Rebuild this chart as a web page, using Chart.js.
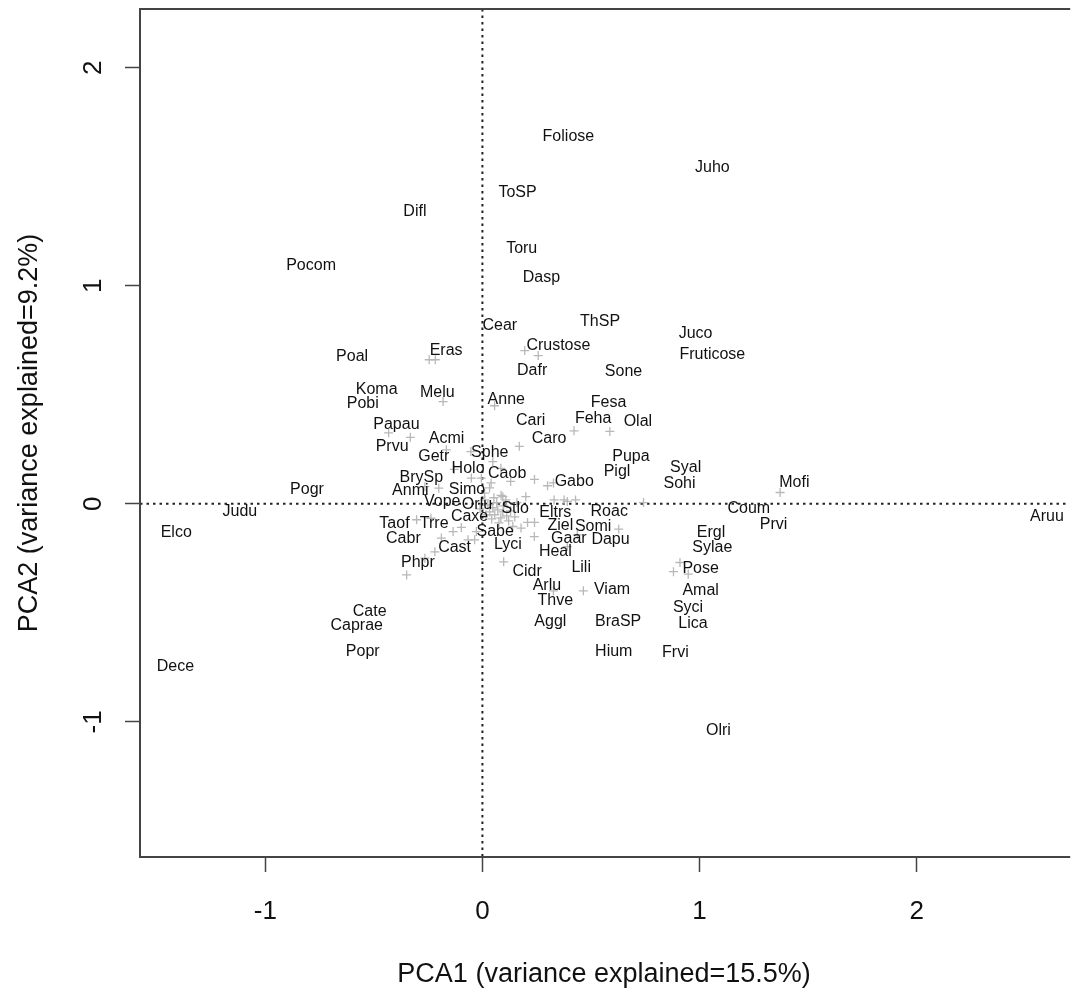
<!DOCTYPE html>
<html>
<head>
<meta charset="utf-8">
<script src="https://cdn.jsdelivr.net/npm/chart.js@4.4.1/dist/chart.umd.min.js"></script>
<style>
  html, body { margin: 0; padding: 0; background: #fff; overflow: hidden; }
  #wrap { width: 1074px; height: 989px; }
</style>
</head>
<body>
<div id="wrap"><canvas id="pca-plot" width="1074" height="989"></canvas></div>
<script>
// species scores (text labels)
const speciesNames = ["Foliose", "Juho", "ToSP", "Difl", "Pocom", "Toru", "Dasp", "Cear", "ThSP", "Juco",
    "Crustose", "Fruticose", "Poal", "Eras", "Dafr", "Sone", "Koma", "Melu", "Pobi", "Anne",
    "Fesa", "Papau", "Cari", "Feha", "Olal", "Acmi", "Caro", "Prvu", "Sphe", "Getr",
    "Pupa", "Syal", "Holo", "Caob", "Pigl", "Sohi", "Mofi", "BrySp", "Gabo", "Pogr",
    "Anmi", "Simo", "Vope", "Orlu", "Stlo", "Coum", "Eltrs", "Roac", "Judu", "Aruu",
    "Caxe", "Prvi", "Ziel", "Somi", "Elco", "Taof", "Trre", "Ergl", "Sabe", "Gaar",
    "Dapu", "Cabr", "Lyci", "Heal", "Sylae", "Cast", "Phpr", "Lili", "Pose", "Cidr",
    "Arlu", "Viam", "Amal", "Thve", "Cate", "Syci", "Caprae", "Aggl", "BraSP", "Lica",
    "Popr", "Hium", "Frvi", "Dece", "Olri"];
const speciesX = [0.396, 1.059, 0.162, -0.311, -0.789, 0.181, 0.272, 0.080, 0.542, 0.982,
    0.350, 1.059, -0.600, -0.167, 0.229, 0.650, -0.487, -0.208, -0.551, 0.110,
    0.581, -0.396, 0.222, 0.510, 0.716, -0.165, 0.307, -0.416, 0.034, -0.224,
    0.684, 0.936, -0.066, 0.114, 0.620, 0.908, 1.437, -0.281, 0.423, -0.808,
    -0.332, -0.071, -0.185, -0.025, 0.151, 1.227, 0.336, 0.584, -1.117, 2.600,
    -0.059, 1.341, 0.359, 0.510, -1.410, -0.405, -0.222, 1.053, 0.059, 0.398,
    0.590, -0.364, 0.117, 0.336, 1.059, -0.128, -0.297, 0.455, 1.005, 0.206,
    0.297, 0.597, 1.005, 0.336, -0.519, 0.947, -0.579, 0.313, 0.625, 0.970,
    -0.551, 0.605, 0.889, -1.414, 1.087];
const speciesY = [1.683, 1.541, 1.427, 1.342, 1.092, 1.172, 1.037, 0.817, 0.835, 0.782,
    0.725, 0.686, 0.674, 0.704, 0.610, 0.606, 0.525, 0.511, 0.461, 0.477,
    0.463, 0.362, 0.381, 0.390, 0.376, 0.298, 0.298, 0.264, 0.236, 0.216,
    0.216, 0.165, 0.161, 0.138, 0.149, 0.092, 0.096, 0.122, 0.101, 0.064,
    0.060, 0.067, 0.009, -0.002, -0.021, -0.023, -0.041, -0.037, -0.034, -0.060,
    -0.060, -0.096, -0.101, -0.106, -0.133, -0.089, -0.092, -0.133, -0.128, -0.161,
    -0.165, -0.158, -0.188, -0.219, -0.202, -0.202, -0.271, -0.294, -0.298, -0.313,
    -0.375, -0.394, -0.400, -0.443, -0.495, -0.474, -0.557, -0.539, -0.541, -0.549,
    -0.678, -0.678, -0.682, -0.746, -1.041];

// site scores (grey crosses)
const siteX = [-0.245, -0.217, -0.181, 0.056, -0.432, -0.332, 0.195, 0.257, 0.422, 0.587,
    0.170, -0.166, -0.053, 0.048, 0.085, -0.130, -0.051, -0.005, 0.240, 0.130,
    0.040, 0.300, 0.327, -0.201, -0.265, 0.010, 0.086, 0.033, 0.094, 0.200,
    0.391, 0.429, 0.742, 0.159, 0.208, 0.240, 0.140, -0.135, -0.097, -0.066,
    -0.189, 0.239, -0.219, -0.265, 0.098, -0.036, -0.028, -0.237, -0.349, 0.628,
    0.437, 0.391, 0.327, 0.465, 0.880, 0.910, 0.948, 1.371, 0.178, 0.376,
    0.330, -0.303, 0.025, 0.048, 0.071, 0.094, 0.057, 0.085, 0.112, 0.034,
    0.011, 0.066, 0.098, 0.121, 0.043, 0.076, 0.016, 0.130, 0.053, -0.011,
    0.108, 0.149];
const siteY = [0.661, 0.661, 0.469, 0.450, 0.326, 0.305, 0.703, 0.680, 0.335, 0.332,
    0.264, 0.248, 0.240, 0.194, 0.163, 0.158, 0.118, 0.118, 0.112, 0.103,
    0.096, 0.083, 0.096, 0.072, 0.079, 0.049, 0.039, 0.073, 0.033, 0.033,
    0.011, 0.018, 0.006, 0.006, -0.085, -0.085, -0.104, -0.127, -0.108, -0.165,
    -0.157, -0.150, -0.220, -0.249, -0.266, -0.165, -0.127, -0.066, -0.326, -0.116,
    -0.142, -0.196, -0.399, -0.399, -0.311, -0.269, -0.322, 0.052, -0.111, 0.018,
    0.018, -0.073, -0.005, -0.018, -0.028, -0.037, -0.050, -0.064, -0.055, -0.037,
    0.018, 0.005, -0.009, -0.078, -0.069, -0.087, -0.050, -0.032, 0.028, -0.023,
    0.018, -0.060];

const tickValues = [-1, 0, 1, 2];
const xTitle = "PCA1 (variance explained=15.5%)";
const yTitle = "PCA2 (variance explained=9.2%)";

const FONT = "'Liberation Sans', Arial, Helvetica, sans-serif";

const sitePoints = siteX.map((x, i) => ({ x: x, y: siteY[i] }));

// frame, zero lines, y tick labels and species names
const pcaDecor = {
    id: "pcaDecor",
    beforeDatasetsDraw(chart) {
        const { ctx, chartArea, scales } = chart;
        const x0 = scales.x.getPixelForValue(0);
        const y0 = scales.y.getPixelForValue(0);
        ctx.save();
        ctx.strokeStyle = "#222";
        ctx.lineWidth = 2;
        ctx.setLineDash([2.5, 4]);
        ctx.beginPath();
        ctx.moveTo(x0, chartArea.top);
        ctx.lineTo(x0, chartArea.bottom);
        ctx.moveTo(chartArea.left, y0);
        ctx.lineTo(chartArea.right, y0);
        ctx.stroke();
        ctx.restore();
    },
    afterDatasetsDraw(chart) {
        const { ctx, chartArea, scales } = chart;
        ctx.save();
        ctx.fillStyle = "#111";
        ctx.font = "16px " + FONT;
        ctx.textAlign = "center";
        ctx.textBaseline = "middle";
        speciesNames.forEach((name, i) => {
            ctx.fillText(name, scales.x.getPixelForValue(speciesX[i]), scales.y.getPixelForValue(speciesY[i]));
        });
        // frame (right side is cut off in the original picture)
        ctx.strokeStyle = "#444";
        ctx.lineWidth = 2;
        ctx.beginPath();
        ctx.moveTo(chartArea.right + 2, chartArea.top);
        ctx.lineTo(chartArea.left, chartArea.top);
        ctx.lineTo(chartArea.left, chartArea.bottom);
        ctx.lineTo(chartArea.right + 2, chartArea.bottom);
        ctx.stroke();
        // rotated y tick labels like R
        ctx.fillStyle = "#111";
        ctx.font = "26px " + FONT;
        tickValues.forEach((v) => {
            ctx.save();
            ctx.translate(94, scales.y.getPixelForValue(v));
            ctx.rotate(-Math.PI / 2);
            ctx.fillText(String(v), 0, 0);
            ctx.restore();
        });
        ctx.restore();
    },
};

new Chart(document.getElementById("pca-plot"), {
    type: "scatter",
    data: {
        datasets: [
            {
                label: "sites",
                data: sitePoints,
                pointStyle: "cross",
                pointRadius: 4.5,
                pointBorderWidth: 1.3,
                borderColor: "#b8b8b8",
                backgroundColor: "#b8b8b8",
            },
        ],
    },
    options: {
        responsive: false,
        animation: false,
        layout: { padding: { top: 9, right: 0, left: 0, bottom: 0 } },
        scales: {
            x: {
                type: "linear",
                min: -1.577,
                max: 2.698,
                afterFit: (scale) => { scale.height = 132; },
                afterBuildTicks: (scale) => { scale.ticks = tickValues.map((v) => ({ value: v })); },
                border: { display: false },
                grid: {
                    drawOnChartArea: false,
                    drawTicks: true,
                    tickLength: 15,
                    tickColor: "#444",
                    tickWidth: 1.5,
                },
                ticks: {
                    color: "#111",
                    font: { family: FONT, size: 26 },
                    padding: 24,
                    maxRotation: 0,
                },
                title: {
                    display: true,
                    text: xTitle,
                    color: "#111",
                    font: { family: FONT, size: 27, lineHeight: 1.1 },
                    padding: { top: 0, bottom: 0 },
                },
            },
            y: {
                type: "linear",
                min: -1.62,
                max: 2.27,
                afterFit: (scale) => { scale.width = 140; },
                afterBuildTicks: (scale) => { scale.ticks = tickValues.map((v) => ({ value: v })); },
                border: { display: false },
                grid: {
                    drawOnChartArea: false,
                    drawTicks: true,
                    tickLength: 15,
                    tickColor: "#444",
                    tickWidth: 1.5,
                },
                ticks: { display: false },
                title: {
                    display: true,
                    text: yTitle,
                    color: "#111",
                    font: { family: FONT, size: 27, lineHeight: 1.1 },
                    padding: { top: 15, bottom: 0 },
                },
            },
        },
        plugins: {
            legend: { display: false },
            tooltip: { enabled: false },
        },
    },
    plugins: [pcaDecor],
});
</script>
</body>
</html>
